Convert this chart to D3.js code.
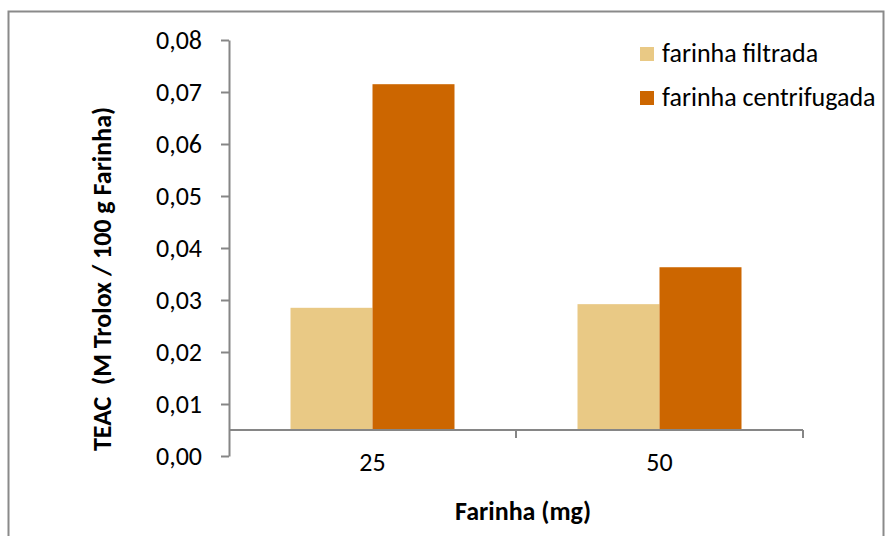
<!DOCTYPE html>
<html>
<head>
<meta charset="utf-8">
<script src="https://cdn.jsdelivr.net/npm/d3@7"></script>
<style>
  html, body { margin: 0; padding: 0; background: #fff; }
  svg { display: block; font-family: Carlito, Lato, "Open Sans", sans-serif; }
</style>
</head>
<body>
<svg id="chart" width="885" height="536"></svg>
<script>
// Flour amount categories (mg)
const categories = ["25", "50"];
// Series names
const seriesNames = ["farinha filtrada", "farinha centrifugada"];
// TEAC values per series, one per category
const filtrada = [0.0285, 0.0292];
const centrifugada = [0.0715, 0.0363];
// Value axis ticks
const yTicks = [0, 0.01, 0.02, 0.03, 0.04, 0.05, 0.06, 0.07, 0.08];
// Value where the category axis crosses
const axisCross = 0.005;

const colors = ["#E9C985", "#CC6600"];
const seriesValues = [filtrada, centrifugada];
const fontFamily = "Carlito, Lato, 'Open Sans', sans-serif";

const svg = d3.select("#chart");

// chart frame
svg.append("rect")
  .attr("x", 8.5).attr("y", 11.5)
  .attr("width", 875).attr("height", 540)
  .attr("fill", "#fff")
  .attr("stroke", "#8a8a8a").attr("stroke-width", 2);

const plot = { left: 229, right: 803, top: 40, bottom: 456 };

const y = d3.scaleLinear().domain([0, 0.08]).range([plot.bottom, plot.top]);
const x0 = d3.scaleBand().domain(categories).range([plot.left, plot.right]).paddingInner(0).paddingOuter(0);
const x1 = d3.scaleBand().domain(seriesNames).range([0, x0.bandwidth()]).paddingInner(0).paddingOuter(0.75);

const locale = d3.formatLocale({ decimal: ",", thousands: ".", grouping: [3], currency: ["", ""] });
const fmt = locale.format(".2f");

// bars
const groups = svg.append("g").selectAll("g")
  .data(categories)
  .join("g")
  .attr("transform", d => `translate(${x0(d)},0)`);

groups.selectAll("rect")
  .data((d, i) => seriesNames.map((s, j) => ({ s, v: seriesValues[j][i], j })))
  .join("rect")
  .attr("x", d => x1(d.s))
  .attr("width", x1.bandwidth())
  .attr("y", d => y(Math.max(d.v, axisCross)))
  .attr("height", d => Math.abs(y(axisCross) - y(d.v)))
  .attr("fill", d => colors[d.j]);

// y axis
const yAxis = svg.append("g")
  .attr("transform", `translate(${plot.left},0)`)
  .call(d3.axisLeft(y).tickValues(yTicks).tickFormat(fmt).tickSize(8).tickPadding(19).tickSizeOuter(0));
yAxis.select(".domain").attr("stroke", "#868686").attr("stroke-width", 2);
yAxis.selectAll(".tick line").attr("stroke", "#868686").attr("stroke-width", 2);
yAxis.selectAll(".tick text")
  .attr("fill", "#000").style("font-size", "26px")
  .style("font-family", fontFamily);

// x axis, crossing at axisCross
const yc = y(axisCross);
const xAxis = svg.append("g").attr("transform", `translate(0,${yc})`);
xAxis.append("line")
  .attr("x1", plot.left).attr("x2", plot.right)
  .attr("stroke", "#868686").attr("stroke-width", 2);
const bounds = [plot.left, ...categories.map(c => x0(c) + x0.bandwidth())];
xAxis.selectAll("line.tk")
  .data(bounds.slice(1))
  .join("line").attr("class", "tk")
  .attr("x1", d => d).attr("x2", d => d)
  .attr("y1", 0).attr("y2", 8)
  .attr("stroke", "#868686").attr("stroke-width", 2);
xAxis.selectAll("text")
  .data(categories)
  .join("text")
  .attr("x", d => x0(d) + x0.bandwidth() / 2)
  .attr("y", 41)
  .attr("text-anchor", "middle")
  .style("font-size", "26px")
  .attr("fill", "#000")
  .text(d => d);

// axis titles
svg.append("text")
  .attr("x", 523).attr("y", 520)
  .attr("text-anchor", "middle")
  .style("font-size", "26px").style("font-weight", "bold")
  .text("Farinha (mg)");

svg.append("text")
  .attr("transform", "translate(111,279) rotate(-90)")
  .attr("text-anchor", "middle")
  .style("font-size", "26px").style("font-weight", "bold")
  .attr("xml:space", "preserve")
  .text("TEAC  (M Trolox / 100 g Farinha)");

// legend
const legend = svg.append("g").selectAll("g")
  .data(seriesNames)
  .join("g")
  .attr("transform", (d, i) => `translate(640,${47 + i * 44})`);
legend.append("rect")
  .attr("width", 14).attr("height", 14)
  .attr("fill", (d, i) => colors[i]);
legend.append("text")
  .attr("x", 22).attr("y", 15)
  .style("font-size", "26px")
  .text(d => d);
</script>
</body>
</html>
